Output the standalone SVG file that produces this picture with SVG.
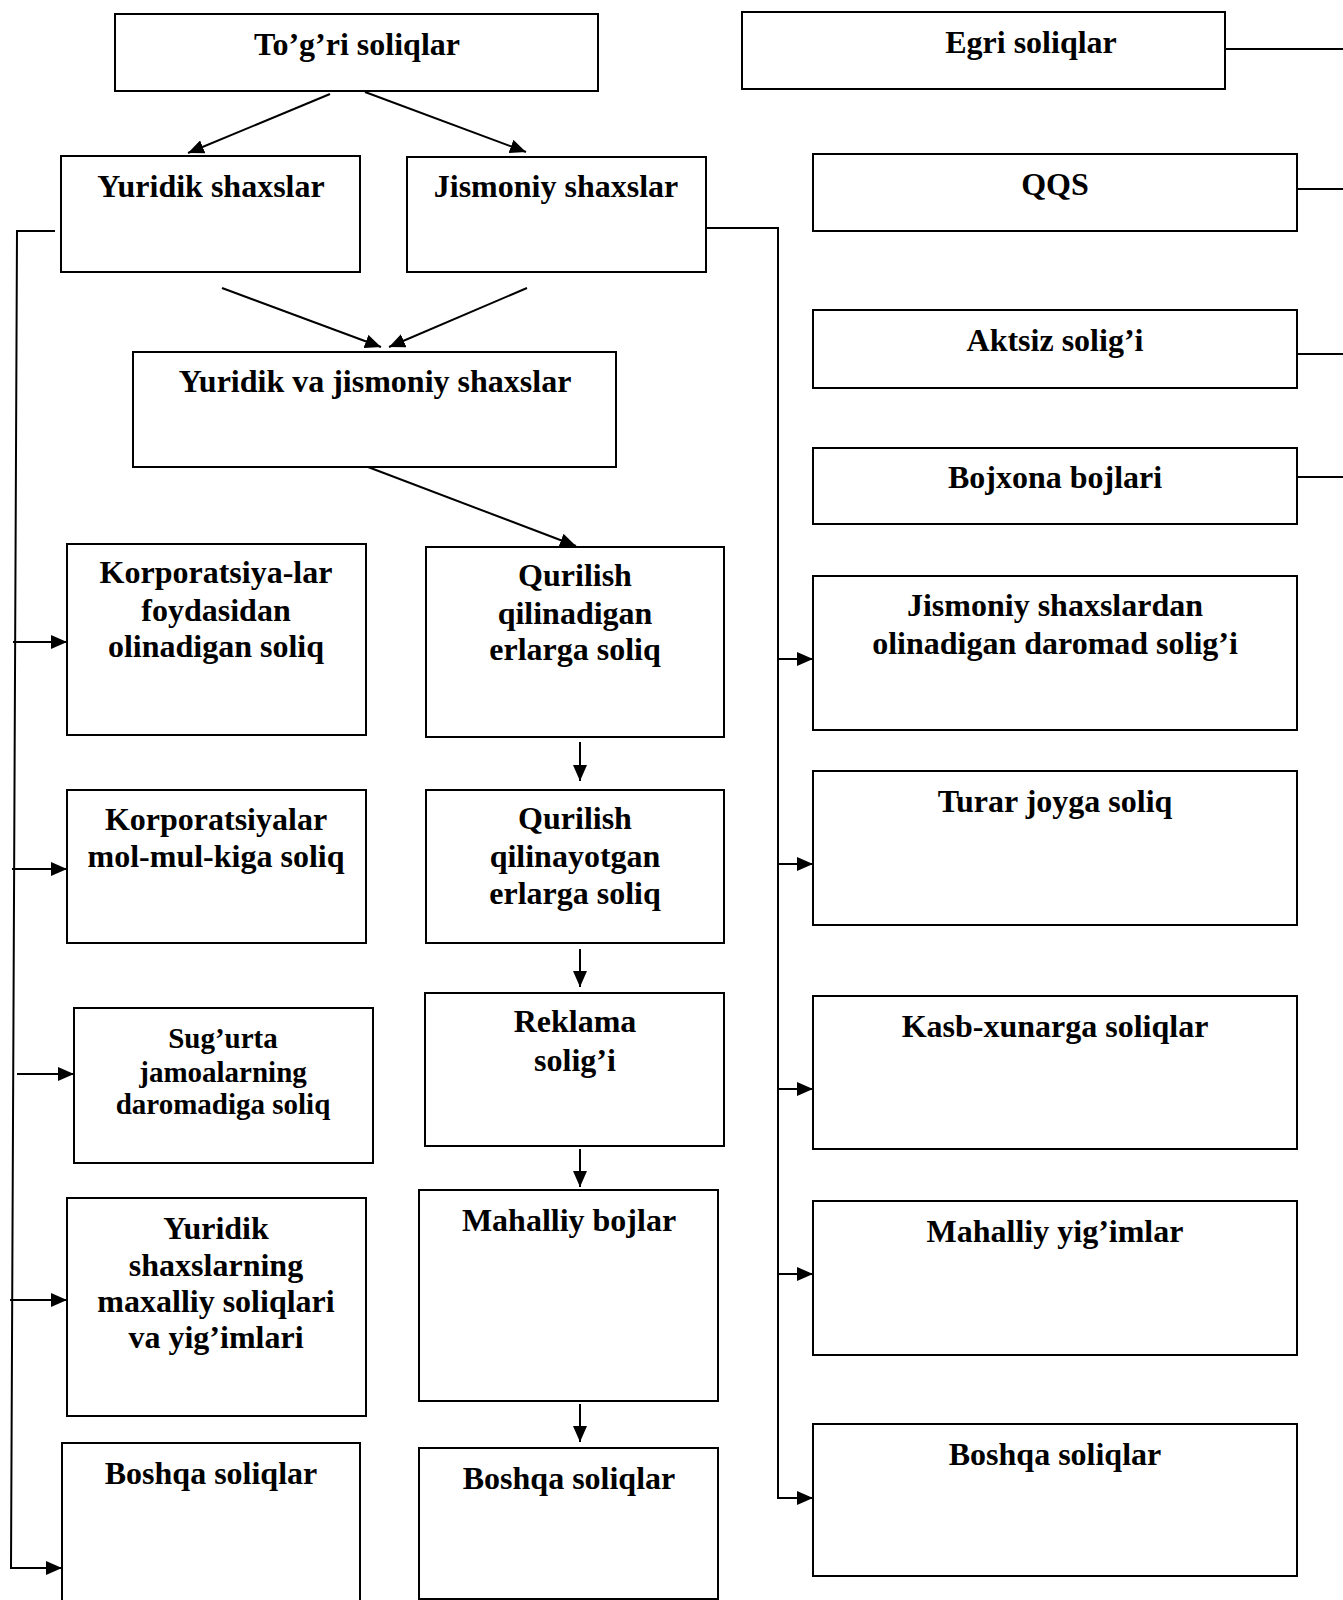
<svg xmlns="http://www.w3.org/2000/svg" width="1343" height="1600" viewBox="0 0 1343 1600">
<defs>
<style>
.box{fill:#fff;stroke:#000;stroke-width:2}
.t{font-family:"Liberation Serif","Times New Roman",serif;font-weight:bold;font-size:32px;fill:#000;text-anchor:middle}
.s{font-size:29px}
.c{fill:none;stroke:#000;stroke-width:2}
</style>
<marker id="ah" markerUnits="userSpaceOnUse" markerWidth="16" markerHeight="14" refX="16" refY="7" orient="auto">
<path d="M0,0 L16,7 L0,14 z" fill="#000"/>
</marker>
</defs>
<rect width="1343" height="1600" fill="#fff"/>

<g id="connectors">
<line class="c" x1="330" y1="94" x2="188" y2="153" marker-end="url(#ah)"/>
<line class="c" x1="365" y1="92" x2="526" y2="152" marker-end="url(#ah)"/>
<line class="c" x1="222" y1="288" x2="381" y2="347" marker-end="url(#ah)"/>
<line class="c" x1="527" y1="288" x2="389" y2="347" marker-end="url(#ah)"/>
<line class="c" x1="368" y1="467" x2="576" y2="546" marker-end="url(#ah)"/>
<line class="c" x1="580" y1="742" x2="580" y2="781" marker-end="url(#ah)"/>
<line class="c" x1="580" y1="949" x2="580" y2="987" marker-end="url(#ah)"/>
<line class="c" x1="580" y1="1149" x2="580" y2="1187" marker-end="url(#ah)"/>
<line class="c" x1="580" y1="1404" x2="580" y2="1442" marker-end="url(#ah)"/>
<polyline class="c" points="55,231 17,231 11,1568"/>
<line class="c" x1="13" y1="642" x2="67" y2="642" marker-end="url(#ah)"/>
<line class="c" x1="12" y1="869" x2="67" y2="869" marker-end="url(#ah)"/>
<line class="c" x1="17" y1="1074" x2="74" y2="1074" marker-end="url(#ah)"/>
<line class="c" x1="10" y1="1300" x2="67" y2="1300" marker-end="url(#ah)"/>
<line class="c" x1="10" y1="1568" x2="62" y2="1568" marker-end="url(#ah)"/>
<polyline class="c" points="706,228 778,228 778,1498"/>
<line class="c" x1="778" y1="659" x2="813" y2="659" marker-end="url(#ah)"/>
<line class="c" x1="778" y1="864" x2="813" y2="864" marker-end="url(#ah)"/>
<line class="c" x1="778" y1="1089" x2="813" y2="1089" marker-end="url(#ah)"/>
<line class="c" x1="778" y1="1274" x2="813" y2="1274" marker-end="url(#ah)"/>
<line class="c" x1="777" y1="1498" x2="813" y2="1498" marker-end="url(#ah)"/>
<line class="c" x1="1225" y1="49" x2="1343" y2="49"/>
<line class="c" x1="1297" y1="189" x2="1343" y2="189"/>
<line class="c" x1="1297" y1="354" x2="1343" y2="354"/>
<line class="c" x1="1297" y1="477" x2="1343" y2="477"/>
</g>

<g id="n-togri"><rect class="box" x="115" y="14" width="483" height="77"/><text class="t" x="357" y="55">To’g’ri soliqlar</text></g>
<g id="n-egri"><rect class="box" x="742" y="12" width="483" height="77"/><text class="t" x="1031" y="53">Egri soliqlar</text></g>
<g id="n-qqs"><rect class="box" x="813" y="154" width="484" height="77"/><text class="t" x="1055" y="195">QQS</text></g>
<g id="n-aktsiz"><rect class="box" x="813" y="310" width="484" height="78"/><text class="t" x="1055" y="351">Aktsiz solig’i</text></g>
<g id="n-bojxona"><rect class="box" x="813" y="448" width="484" height="76"/><text class="t" x="1055" y="488">Bojxona bojlari</text></g>

<g id="n-yuridik"><rect class="box" x="61" y="156" width="299" height="116"/><text class="t" x="211" y="197">Yuridik shaxslar</text></g>
<g id="n-jismoniy"><rect class="box" x="407" y="157" width="299" height="115"/><text class="t" x="556" y="197">Jismoniy shaxslar</text></g>
<g id="n-yurjis"><rect class="box" x="133" y="352" width="483" height="115"/><text class="t" x="375" y="392">Yuridik va jismoniy shaxslar</text></g>

<g id="n-korp1"><rect class="box" x="67" y="544" width="299" height="191"/><text class="t" x="216" y="583">Korporatsiya-lar</text><text class="t" x="216" y="621">foydasidan</text><text class="t" x="216" y="657">olinadigan soliq</text></g>
<g id="n-korp2"><rect class="box" x="67" y="790" width="299" height="153"/><text class="t" x="216" y="830">Korporatsiyalar</text><text class="t" x="216" y="867">mol-mul-kiga soliq</text></g>
<g id="n-sugurta"><rect class="box" x="74" y="1008" width="299" height="155"/><text class="t s" x="223" y="1048">Sug’urta</text><text class="t s" x="223" y="1082">jamoalarning</text><text class="t s" x="223" y="1114">daromadiga soliq</text></g>
<g id="n-yurmah"><rect class="box" x="67" y="1198" width="299" height="218"/><text class="t" x="216" y="1239">Yuridik</text><text class="t" x="216" y="1276">shaxslarning</text><text class="t" x="216" y="1312">maxalliy soliqlari</text><text class="t" x="216" y="1348">va yig’imlari</text></g>
<g id="n-boshqa1"><rect class="box" x="62" y="1443" width="298" height="200"/><text class="t" x="211" y="1484">Boshqa soliqlar</text></g>

<g id="n-qur1"><rect class="box" x="426" y="547" width="298" height="190"/><text class="t" x="575" y="586">Qurilish</text><text class="t" x="575" y="624">qilinadigan</text><text class="t" x="575" y="660">erlarga soliq</text></g>
<g id="n-qur2"><rect class="box" x="426" y="790" width="298" height="153"/><text class="t" x="575" y="829">Qurilish</text><text class="t" x="575" y="867">qilinayotgan</text><text class="t" x="575" y="904">erlarga soliq</text></g>
<g id="n-reklama"><rect class="box" x="425" y="993" width="299" height="153"/><text class="t" x="575" y="1032">Reklama</text><text class="t" x="575" y="1071">solig’i</text></g>
<g id="n-mahboj"><rect class="box" x="419" y="1190" width="299" height="211"/><text class="t" x="569" y="1231">Mahalliy bojlar</text></g>
<g id="n-boshqa2"><rect class="box" x="419" y="1448" width="299" height="151"/><text class="t" x="569" y="1489">Boshqa soliqlar</text></g>

<g id="n-jisdar"><rect class="box" x="813" y="576" width="484" height="154"/><text class="t" x="1055" y="616">Jismoniy shaxslardan</text><text class="t" x="1055" y="654">olinadigan daromad solig’i</text></g>
<g id="n-turar"><rect class="box" x="813" y="771" width="484" height="154"/><text class="t" x="1055" y="812">Turar joyga soliq</text></g>
<g id="n-kasb"><rect class="box" x="813" y="996" width="484" height="153"/><text class="t" x="1055" y="1037">Kasb-xunarga soliqlar</text></g>
<g id="n-mahyig"><rect class="box" x="813" y="1201" width="484" height="154"/><text class="t" x="1055" y="1242">Mahalliy yig’imlar</text></g>
<g id="n-boshqa3"><rect class="box" x="813" y="1424" width="484" height="152"/><text class="t" x="1055" y="1465">Boshqa soliqlar</text></g>
</svg>
